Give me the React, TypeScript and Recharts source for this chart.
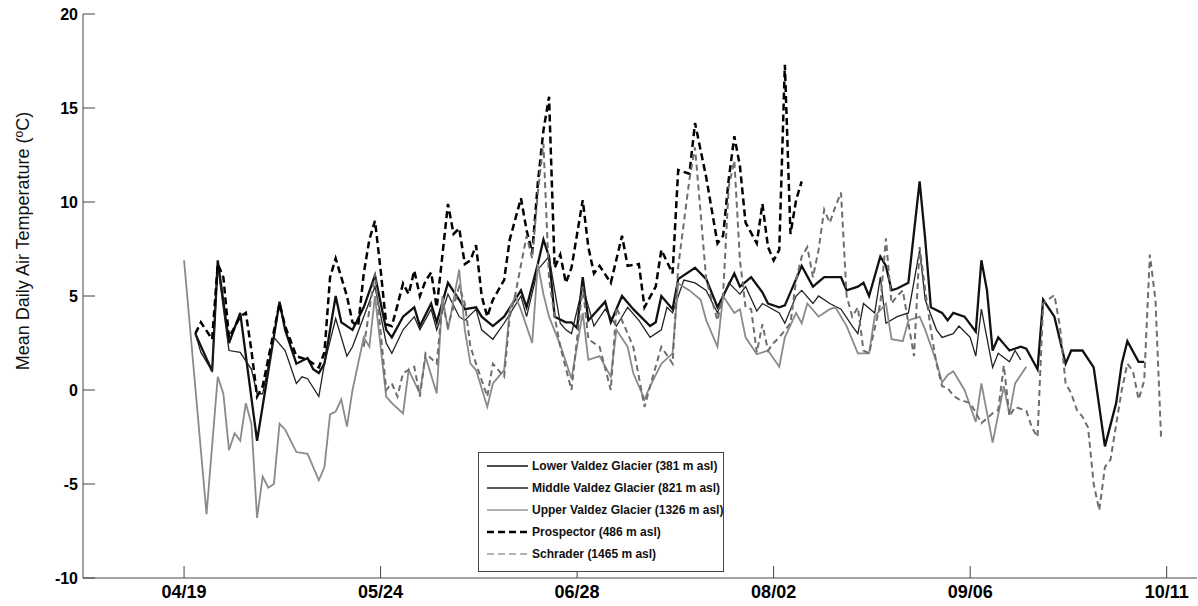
import { LineChart, Line, XAxis, YAxis } from "recharts";

// x = days after 04/19, y = mean daily air temperature (°C)
const tickDays = [0, 35, 70, 105, 140, 175];
const tickLabels = ["04/19", "05/24", "06/28", "08/02", "09/06", "10/11"];
const tempTicks = [-10, -5, 0, 5, 10, 15, 20];

type Pt = [number, number];

const lowerValdez: Pt[] = [
  [2, 3.0], [5, 1.0], [6, 6.9], [8, 2.5], [10, 4.1], [13, -2.7], [17, 4.7], [18, 3.2], [20, 1.4], [22, 1.7],
  [23, 1.1], [24, 0.9], [25, 1.4], [27, 5.0], [28, 3.6], [30, 3.2], [32, 4.4], [34, 6.1], [36, 3.2], [37, 2.8],
  [39, 3.9], [41, 4.4], [42, 3.4], [44, 4.6], [45, 3.6], [47, 5.7], [49, 4.8], [50, 4.3], [52, 4.4], [53, 3.9],
  [55, 3.4], [57, 3.9], [60, 5.3], [61, 4.4], [63, 6.7], [64, 8.0], [65, 7.1], [66, 3.9], [68, 3.6], [69, 3.6],
  [70, 3.3], [71, 6.0], [72, 3.7], [75, 4.7], [76, 3.6], [78, 5.0], [80, 4.3], [83, 3.4], [84, 3.6], [85, 5.0],
  [87, 4.3], [88, 5.9], [91, 6.5], [93, 5.9], [95, 4.4], [98, 6.2], [99, 5.5], [101, 6.0], [103, 5.2], [104, 4.6],
  [106, 4.4], [107, 4.5], [109, 5.9], [110, 6.6], [112, 5.5], [114, 6.0], [117, 6.0], [118, 5.3], [120, 5.5], [121, 5.7],
  [122, 5.0], [124, 7.1], [125, 6.6], [126, 5.3], [127, 5.4], [129, 5.7], [131, 11.1], [132, 8.0], [133, 4.4], [135, 4.1],
  [136, 3.7], [137, 4.1], [139, 3.9], [141, 3.1], [142, 6.9], [143, 5.3], [144, 2.1], [145, 2.8], [147, 2.1], [149, 2.3],
  [150, 2.2], [152, 1.1], [153, 4.8], [155, 3.9], [157, 1.4], [158, 2.1], [160, 2.1], [162, 1.2], [164, -3.0], [166, -0.7],
  [167, 1.4], [168, 2.6], [170, 1.5], [171, 1.5],
];

const middleValdez: Pt[] = [
  [2, 3.0], [3, 2.0], [5, 1.0], [6, 6.6], [8, 2.1], [10, 2.0], [12, 1.1], [13, -0.2], [14, -0.2], [16, 2.8],
  [18, 2.1], [20, 0.35], [21, 0.7], [22, 0.6], [24, -0.35], [25, 1.4], [27, 3.8], [29, 1.8], [30, 2.3], [32, 3.9],
  [34, 5.5], [36, 2.5], [37, 1.95], [39, 3.2], [41, 3.9], [42, 3.2], [44, 4.3], [45, 3.2], [47, 5.1], [49, 3.9],
  [50, 3.7], [52, 4.3], [53, 3.2], [55, 2.7], [57, 3.55], [60, 5.0], [61, 3.9], [63, 6.4], [65, 7.1], [66, 5.3],
  [67, 3.55], [68, 3.2], [69, 3.0], [71, 5.5], [73, 3.4], [75, 4.3], [77, 3.4], [79, 4.4], [81, 3.7], [83, 2.8],
  [85, 3.2], [86, 4.4], [87, 4.1], [89, 5.85], [91, 5.7], [93, 5.3], [95, 4.1], [97, 5.7], [99, 5.1], [100, 5.5],
  [102, 4.2], [103, 4.6], [106, 4.1], [107, 3.55], [109, 5.0], [110, 5.3], [112, 4.6], [113, 5.0], [115, 4.6], [117, 4.3],
  [119, 3.4], [120, 3.0], [121, 4.6], [123, 4.1], [124, 6.0], [125, 3.55], [127, 3.9], [129, 4.1], [131, 7.45], [132, 4.8],
  [134, 3.2], [135, 2.8], [137, 3.0], [138, 3.4], [140, 2.8], [141, 1.8], [142, 4.3], [144, 1.2], [145, 1.95], [147, 1.5],
  [148, 2.1], [149, 1.6],
];

const upperValdez: Pt[] = [
  [0, 6.9], [4, -6.6], [6, 0.7], [7, -0.2], [8, -3.2], [9, -2.3], [10, -2.7], [11, -0.7], [12, -1.8], [13, -6.8],
  [14, -4.6], [15, -5.2], [16, -5.0], [17, -1.8], [18, -2.1], [20, -3.3], [22, -3.4], [24, -4.8], [25, -4.1], [26, -1.3],
  [27, -1.15], [28, -0.5], [29, -1.95], [30, 0.0], [32, 2.8], [33, 2.3], [34, 5.0], [36, -0.35], [37, -0.7], [39, -1.24],
  [40, 1.06], [42, -0.18], [43, 1.77], [45, -0.18], [46, 5.0], [47, 3.2], [49, 6.4], [50, 3.2], [51, 1.4], [52, 1.06],
  [54, -0.9], [55, 0.35], [57, 1.06], [58, 4.26], [59, 5.0], [60, 4.26], [62, 2.5], [63, 6.7], [64, 5.1], [65, 3.9],
  [67, 2.4], [69, 0.6], [71, 4.1], [72, 1.6], [74, 1.8], [76, 0.7], [77, 3.2], [79, 2.3], [80, 0.9], [82, -0.5],
  [83, 0.2], [85, 1.4], [87, 1.95], [88, 5.67], [90, 5.3], [92, 4.8], [93, 3.7], [95, 2.3], [96, 5.0], [98, 4.1],
  [99, 4.3], [100, 2.8], [102, 1.9], [104, 2.1], [106, 1.24], [107, 2.8], [109, 4.1], [110, 3.55], [111, 4.6], [113, 3.9],
  [115, 4.3], [116, 4.4], [118, 3.4], [120, 1.95], [122, 1.95], [123, 3.9], [125, 4.6], [126, 2.7], [128, 2.6], [129, 3.7],
  [131, 3.9], [132, 3.2], [134, 1.5], [135, 0.4], [136, 0.8], [137, 1.0], [139, 0.0], [141, -1.7], [142, 0.35], [144, -2.8],
  [146, 0.2], [147, -1.3], [148, 0.35], [150, 1.24],
];

const prospector: Pt[] = [
  [2, 3.0], [3, 3.6], [5, 2.7], [6, 6.7], [7, 6.0], [8, 2.8], [10, 3.9], [11, 4.1], [12, 2.1], [13, -0.35],
  [14, 0.2], [17, 4.6], [18, 3.4], [20, 1.8], [22, 1.6], [24, 1.2], [25, 2.0], [26, 6.0], [27, 7.0], [29, 5.0],
  [30, 3.6], [31, 3.4], [32, 6.2], [33, 8.0], [34, 9.0], [35, 6.4], [36, 3.5], [37, 3.4], [38, 4.5], [39, 5.67],
  [40, 5.1], [41, 6.35], [42, 5.0], [43, 5.8], [44, 6.25], [45, 4.4], [47, 9.9], [48, 8.3], [49, 8.6], [50, 6.7],
  [51, 6.9], [52, 7.7], [53, 5.0], [54, 3.9], [55, 4.8], [57, 5.85], [58, 8.0], [60, 10.2], [61, 8.5], [62, 7.3],
  [63, 11.0], [64, 13.8], [65, 15.6], [66, 6.5], [67, 7.2], [68, 5.7], [69, 6.5], [71, 10.1], [72, 7.6], [73, 6.2],
  [74, 6.6], [76, 5.7], [78, 8.2], [79, 6.6], [81, 6.7], [82, 4.4], [84, 5.5], [85, 7.45], [87, 6.2], [88, 11.7],
  [90, 11.5], [91, 14.2], [93, 11.3], [95, 7.8], [96, 8.2], [97, 11.2], [98, 13.5], [99, 11.9], [100, 8.9], [102, 7.8],
  [103, 9.9], [104, 7.6], [105, 6.9], [106, 7.45], [107, 17.3], [108, 8.3], [109, 10.1], [110, 11.1],
];

const schrader: Pt[] = [
  [32, 2.3], [34, 6.2], [36, 0.0], [37, 0.35], [38, -0.35], [39, 0.9], [41, 1.24], [42, -0.35], [43, 1.95], [45, 1.4],
  [46, 4.6], [47, 3.4], [49, 5.5], [50, 4.6], [51, 2.3], [52, 1.4], [54, -0.35], [55, 1.4], [57, 0.7], [58, 3.9],
  [59, 5.1], [61, 8.2], [62, 7.0], [63, 10.5], [64, 13.1], [65, 5.9], [66, 3.9], [67, 2.3], [69, 0.0], [71, 5.5],
  [72, 2.7], [74, 2.3], [76, 0.0], [77, 4.4], [79, 3.0], [80, 2.3], [82, -0.9], [83, 0.2], [85, 2.3], [87, 1.4],
  [88, 6.56], [90, 11.2], [91, 12.9], [92, 9.4], [93, 5.85], [95, 3.7], [96, 5.1], [97, 10.8], [98, 12.2], [99, 6.9],
  [100, 4.4], [101, 4.3], [102, 2.0], [103, 3.5], [104, 2.1], [105, 2.5], [106, 2.8], [108, 3.55], [109, 5.85], [110, 7.1],
  [111, 7.6], [112, 6.0], [113, 7.45], [114, 9.6], [115, 8.9], [116, 9.75], [117, 10.5], [118, 5.0], [119, 3.9], [120, 4.4],
  [121, 2.1], [122, 1.95], [124, 4.6], [125, 8.07], [126, 4.6], [127, 5.0], [128, 5.3], [129, 3.55], [130, 1.8], [131, 7.6],
  [132, 5.3], [133, 3.2], [134, 1.4], [135, 0.2], [136, 0.1], [137, -0.3], [138, -0.5], [140, -0.7], [141, -1.2], [142, -1.77],
  [144, -1.24], [145, -1.06], [146, 1.3], [147, -1.4], [148, -0.9], [150, -1.1], [151, -2.0], [152, -2.5], [153, 4.6], [155, 5.05],
  [156, 3.37], [157, 0.35], [158, -0.18], [159, -1.06], [160, -1.42], [161, -2.0], [162, -5.0], [163, -6.4], [164, -4.1], [165, -3.7],
  [167, 0.0], [168, 1.4], [169, 1.0], [170, -0.5], [171, 0.5], [172, 7.2], [173, 4.8], [174, -2.5],
];

const toRows = (pts: Pt[]) => pts.map(([day, t]) => ({ day, t }));

const series = [
  { key: "lower", name: "Lower Valdez Glacier", elev: "(381 m asl)", pts: lowerValdez, stroke: "#111", width: 2.3, dash: undefined, legendStroke: "#111", legendWidth: 1.5 },
  { key: "middle", name: "Middle Valdez Glacier", elev: "(821 m asl)", pts: middleValdez, stroke: "#222", width: 1.3, dash: undefined, legendStroke: "#222", legendWidth: 1.5 },
  { key: "upper", name: "Upper Valdez Glacier", elev: "(1326 m asl)", pts: upperValdez, stroke: "#8a8a8a", width: 1.8, dash: undefined, legendStroke: "#999", legendWidth: 1.5 },
  { key: "prospector", name: "Prospector", elev: "(486 m asl)", pts: prospector, stroke: "#000", width: 2.5, dash: "7 4", legendStroke: "#000", legendWidth: 2.5 },
  { key: "schrader", name: "Schrader", elev: "(1465 m asl)", pts: schrader, stroke: "#6e6e6e", width: 2, dash: "6 4", legendStroke: "#999", legendWidth: 1.3 },
];

const FONT = "Arial, 'Liberation Sans', Helvetica, sans-serif";

function XTick({ x, y, payload }: any) {
  const i = tickDays.indexOf(payload.value);
  return (
    <g>
      <line x1={x} x2={x} y1={y} y2={y - 12} stroke="#444" />
      <text x={x} y={y + 20} textAnchor="middle" fontSize={18} fontWeight="bold" fontFamily={FONT} fill="#000">
        {tickLabels[i]}
      </text>
    </g>
  );
}

function YTick({ x, y, payload }: any) {
  return (
    <g>
      <line x1={x} x2={x + 12} y1={y} y2={y} stroke="#444" />
      <text x={x - 5} y={y + 6} textAnchor="end" fontSize={16} fontWeight="bold" fontFamily={FONT} fill="#000">
        {payload.value}
      </text>
    </g>
  );
}

export default function App() {
  return (
    <div style={{ position: "absolute", left: 0, top: 0, width: 1198, height: 606, background: "#fff", fontFamily: FONT }}>
      <LineChart width={1198} height={606} margin={{ top: 14, right: 1, bottom: 0, left: 0 }}>
        <XAxis
          dataKey="day"
          type="number"
          domain={[-18, 180.4]}
          ticks={tickDays}
          interval={0}
          allowDataOverflow
          height={28}
          tickSize={0}
          tickMargin={0}
          tickLine={false}
          axisLine={{ stroke: "#444" }}
          tick={(p: any) => <XTick {...p} />}
        />
        <YAxis
          type="number"
          domain={[-10, 20]}
          ticks={tempTicks}
          interval={0}
          width={83}
          tickSize={0}
          tickMargin={0}
          tickLine={false}
          axisLine={{ stroke: "#444" }}
          tick={(p: any) => <YTick {...p} />}
        />
        {series.map((s) => (
          <Line
            key={s.key}
            data={toRows(s.pts)}
            dataKey="t"
            type="linear"
            stroke={s.stroke}
            strokeWidth={s.width}
            strokeDasharray={s.dash}
            dot={false}
            activeDot={false}
            isAnimationActive={false}
          />
        ))}
      </LineChart>

      <div
        style={{
          position: "absolute",
          left: 23,
          top: 241,
          transform: "translate(-50%, -50%) rotate(-90deg)",
          whiteSpace: "nowrap",
          fontSize: 18,
          color: "#111",
        }}
      >
        Mean Daily Air Temperature (ºC)
      </div>

      <div
        style={{
          position: "absolute",
          left: 478,
          top: 452,
          width: 246,
          height: 120,
          border: "1px solid #444",
          background: "#fff",
          paddingTop: 2,
          boxSizing: "border-box",
        }}
      >
        {series.map((s) => (
          <div key={s.key} style={{ display: "flex", alignItems: "center", height: 22 }}>
            <svg width={50} height={22} style={{ flex: "none" }}>
              <line x1={8} x2={49} y1={11} y2={11} stroke={s.legendStroke} strokeWidth={s.legendWidth} strokeDasharray={s.dash ? "7 4" : undefined} />
            </svg>
            <span style={{ fontSize: 12, fontWeight: "bold", color: "#111", marginLeft: 3, whiteSpace: "nowrap" }}>
              {s.name} {s.elev}
            </span>
          </div>
        ))}
      </div>
    </div>
  );
}
